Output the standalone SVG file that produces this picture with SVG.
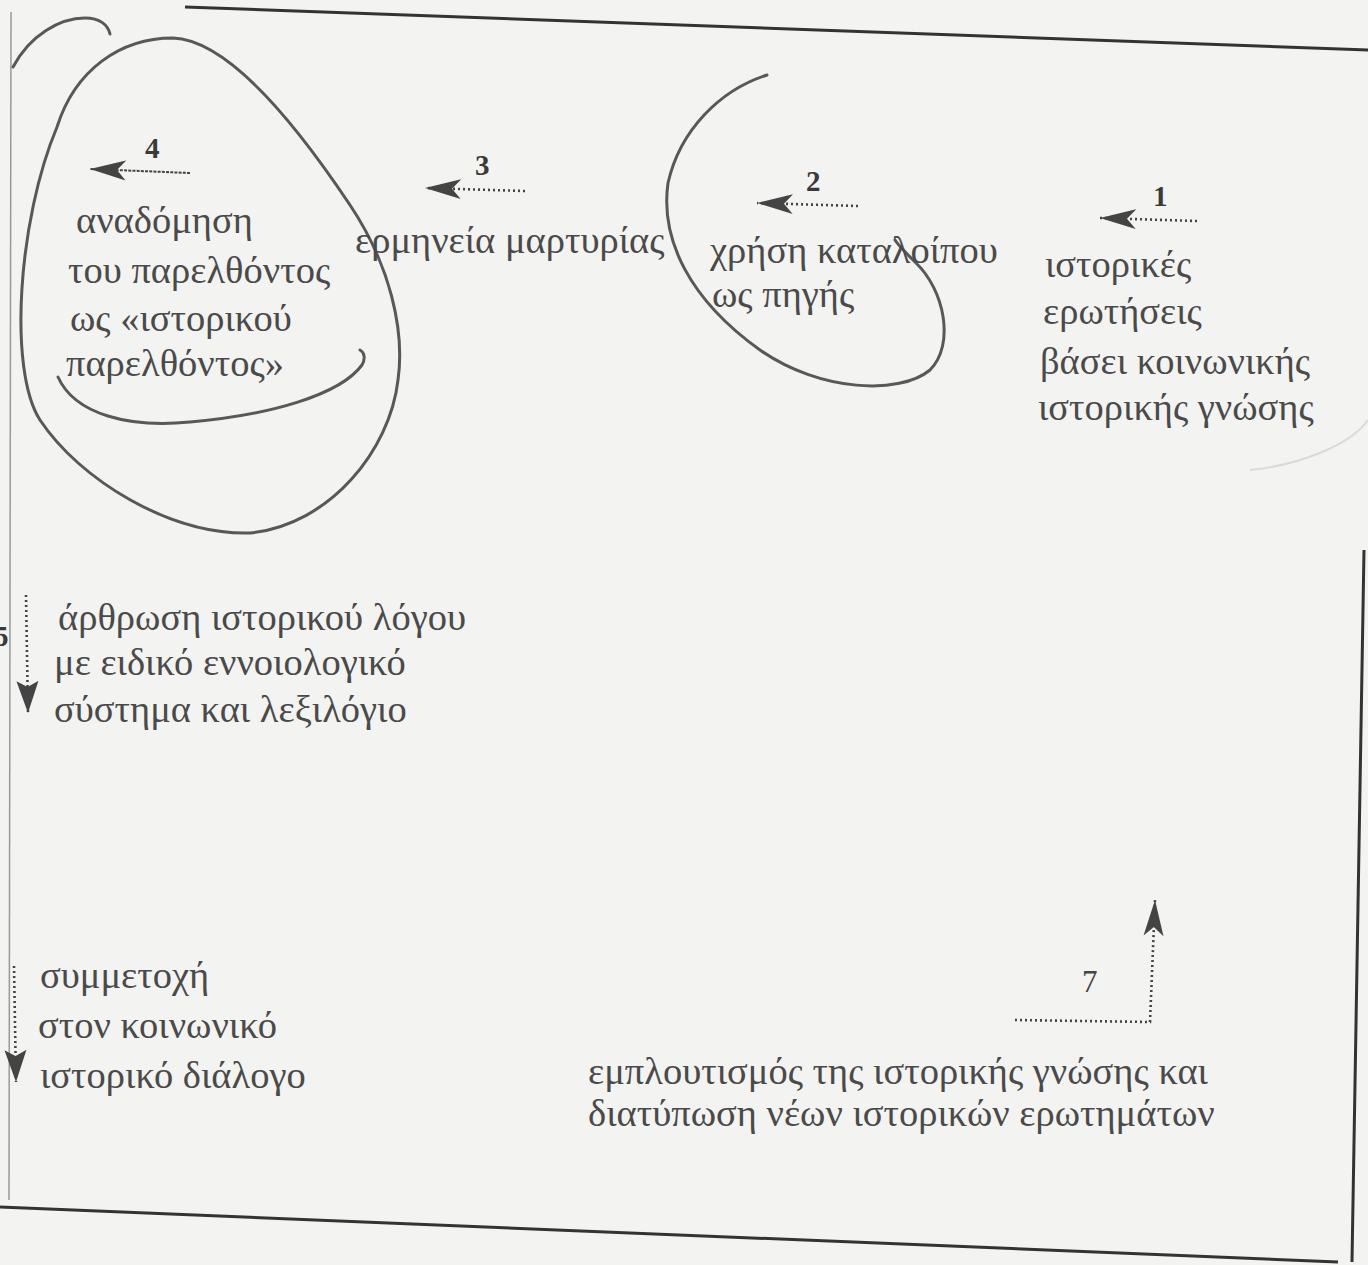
<svg xmlns="http://www.w3.org/2000/svg" width="1368" height="1265" viewBox="0 0 1368 1265">
  <style>
    .t { font-family: "Liberation Serif", "DejaVu Serif", serif; font-size: 38.5px; fill: #4a4a4a; }
    .n { font-family: "Liberation Serif", "DejaVu Serif", serif; font-size: 29px; font-weight: bold; fill: #3a3a3a; }
    .n7 { font-family: "Liberation Serif", "DejaVu Serif", serif; font-size: 31px; fill: #444; }
    .dot { fill: none; stroke: #444; stroke-width: 2.6; stroke-dasharray: 2 3; }
    .fine { fill: none; stroke: #444; stroke-width: 2; stroke-dasharray: 3 1.2; }
    .frame { fill: none; stroke: #333; stroke-width: 3; }
    .pen { fill: none; stroke: #585858; stroke-width: 3; stroke-linecap: round; }
    .faint { fill: none; stroke: #dadada; stroke-width: 2; }
  </style>
  <defs>
    <marker id="head" markerUnits="userSpaceOnUse" markerWidth="40" markerHeight="24" refX="36" refY="12" orient="auto" viewBox="0 0 40 24">
      <path d="M0,2 L36,12 L0,22 L9,12 Z" fill="#444"/>
    </marker>
    <marker id="headS" markerUnits="userSpaceOnUse" markerWidth="34" markerHeight="24" refX="32" refY="12" orient="auto" viewBox="0 0 34 24">
      <path d="M0,1 L32,12 L0,23 L6,12 Z" fill="#444"/>
    </marker>
  </defs>

  <rect x="0" y="0" width="1368" height="1265" fill="#f3f3f1"/>

  <g id="frame">
    <path class="frame" d="M185,7 L1368,50"/>
    <path class="frame" d="M0,1207 L1338,1262"/>
    <path class="frame" d="M1364,550 L1352,1262" stroke-width="2.5"/>
    <path d="M11,12 L9,1200" fill="none" stroke="#999" stroke-width="1.5"/>
  </g>

  <g id="handdrawn">
    <path class="pen" d="M13,67 C30,35 60,18 85,18 C100,18 108,25 110,34"/>
    <path class="pen" d="M57,127 C75,70 120,38 173,38 C230,40 300,130 350,205 C390,265 405,330 398,380 C390,450 330,525 250,533 C170,535 80,480 40,420 C8,370 18,220 57,127 Z"/>
    <path class="pen" d="M58,377 C75,415 130,428 190,422 C270,415 340,395 362,365 C366,358 364,352 360,350"/>
    <path class="pen" d="M767,75 C720,90 680,130 668,183 C660,240 690,300 760,350 C820,392 900,395 930,370 C955,345 945,290 915,262 C905,252 898,245 895,240"/>
    <path class="faint" d="M1250,470 C1300,465 1350,445 1368,420"/>
  </g>

  <g id="connectors">
    <path id="arrow-1" class="dot" d="M1197,221 L1100,218" marker-end="url(#head)"/>
    <path id="arrow-2" class="dot" d="M858,206 L757,203" marker-end="url(#head)"/>
    <path id="arrow-3" class="dot" d="M525,191 L425,188" marker-end="url(#head)"/>
    <path id="arrow-4" class="fine" d="M190,173 L90,169" marker-end="url(#head)"/>
    <path id="arrow-5" class="dot" d="M26,595 L28,713" marker-end="url(#headS)"/>
    <path id="arrow-6" class="dot" d="M14,966 L16,1082" marker-end="url(#headS)"/>
    <path id="arrow-7" class="dot" d="M1015,1020 L1150,1022 L1155,900" marker-end="url(#head)"/>
  </g>

  <g id="labels">
    <text class="n" x="1153" y="206">1</text>
    <text class="n" x="806" y="191">2</text>
    <text class="n" x="475" y="175">3</text>
    <text class="n" x="145" y="158">4</text>
    <text class="n" x="-6" y="646">5</text>
    <text class="n7" x="1082" y="992">7</text>
  </g>

  <g id="node-1">
    <text class="t" x="1045" y="277">ιστορικές</text>
    <text class="t" x="1043" y="324">ερωτήσεις</text>
    <text class="t" x="1040" y="374">βάσει κοινωνικής</text>
    <text class="t" x="1038" y="420">ιστορικής γνώσης</text>
  </g>

  <g id="node-2">
    <text class="t" x="710" y="263">χρήση καταλοίπου</text>
    <text class="t" x="712" y="307">ως πηγής</text>
  </g>

  <g id="node-3">
    <text class="t" x="355" y="253">ερμηνεία μαρτυρίας</text>
  </g>

  <g id="node-4">
    <text class="t" x="76" y="233">αναδόμηση</text>
    <text class="t" x="68" y="283">του παρελθόντος</text>
    <text class="t" x="70" y="331">ως «ιστορικού</text>
    <text class="t" x="66" y="376">παρελθόντος»</text>
  </g>

  <g id="node-5">
    <text class="t" x="58" y="630">άρθρωση ιστορικού λόγου</text>
    <text class="t" x="54" y="675">με ειδικό εννοιολογικό</text>
    <text class="t" x="54" y="722">σύστημα και λεξιλόγιο</text>
  </g>

  <g id="node-6">
    <text class="t" x="40" y="988">συμμετοχή</text>
    <text class="t" x="38" y="1038">στον κοινωνικό</text>
    <text class="t" x="40" y="1088">ιστορικό διάλογο</text>
  </g>

  <g id="node-7">
    <text class="t" x="588" y="1084">εμπλουτισμός της ιστορικής γνώσης και</text>
    <text class="t" x="588" y="1126">διατύπωση νέων ιστορικών ερωτημάτων</text>
  </g>
</svg>
